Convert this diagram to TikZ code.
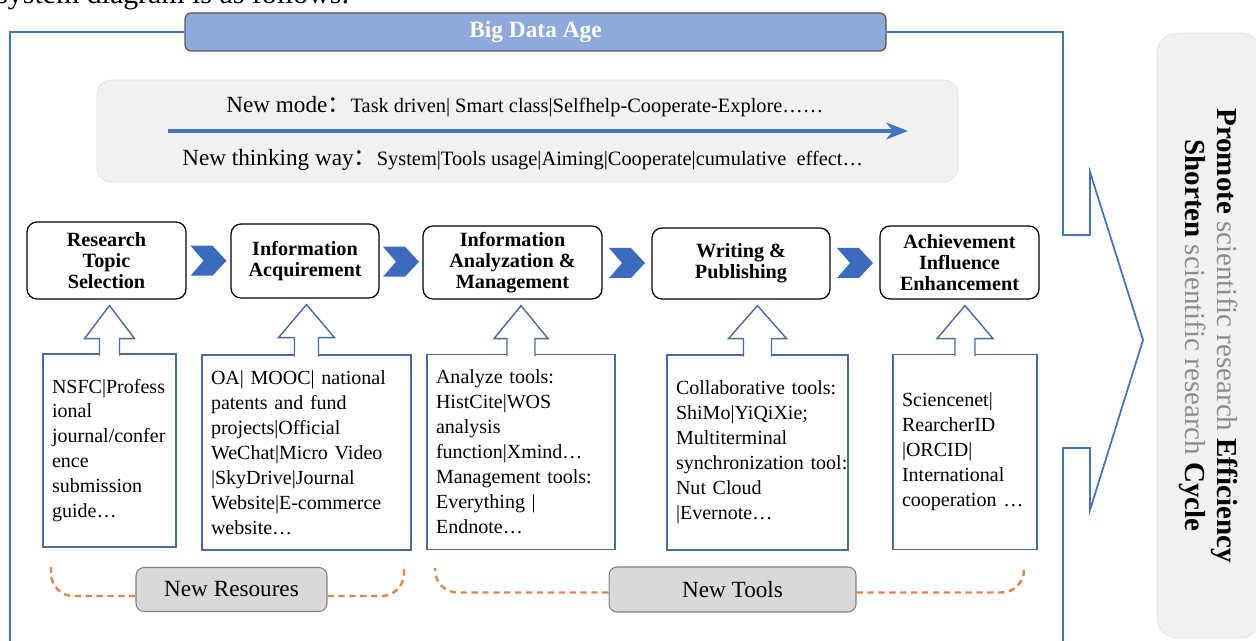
\documentclass[tikz,border=0pt]{standalone}
\usepackage{fontspec}
\setmainfont{Liberation Serif}
\newfontfamily\cjk{Noto Sans CJK SC}
\usetikzlibrary{arrows.meta,positioning,calc}
\definecolor{frameblue}{RGB}{68,114,196}
\definecolor{chevblue}{RGB}{59,106,190}
\definecolor{slateblue}{RGB}{74,106,165}
\definecolor{titlefill}{RGB}{142,169,219}
\definecolor{panelgray}{RGB}{241,241,241}
\definecolor{panelline}{RGB}{226,226,226}
\definecolor{tagfill}{RGB}{217,217,217}
\definecolor{tagline}{RGB}{128,128,128}
\definecolor{dashorange}{RGB}{224,134,76}
\definecolor{softgray}{RGB}{140,140,140}

\begin{document}
\begin{tikzpicture}[x=0.02cm,y=-0.02cm,
 stage/.style={draw=black,fill=white,rounded corners=0.2cm,align=center,line width=0.7pt,minimum height=1.46cm,font=\fontsize{11.5}{12}\selectfont\bfseries},
 textbox/.style={draw=slateblue,fill=white,line width=0.8pt,outer sep=0pt,inner xsep=0.18cm,align=left,minimum height=3.9cm,font=\fontsize{11.4}{14.2}\selectfont},
 hollow/.style={draw=slateblue,fill=white,line width=0.8pt,line join=miter},
 chev/.style={fill=chevblue},
 tag/.style={draw=tagline,fill=tagfill,rounded corners=0.16cm,line width=0.6pt,font=\fontsize{13.2}{15}\selectfont},
 dashy/.style={draw=dashorange,line width=1.4pt,dash pattern=on 3.6pt off 2.6pt,rounded corners=0.45cm}]
\useasboundingbox (0,0) rectangle (1256,641);
\node[anchor=base west,inner sep=0pt,font=\fontsize{17}{20}\selectfont] (caption) at (-4,4) {system diagram is as follows:};
% frame and title
\node[draw=black!65,fill=titlefill,rounded corners=0.12cm,line width=0.7pt,minimum width=14.02cm,minimum height=0.76cm,text=white,font=\fontsize{13.3}{15}\selectfont\bfseries] (title) at (535.5,32) {Big Data Age};
\draw[frameblue,line width=1pt] (title.west) -- (10,32) -- (10,660);
\draw[frameblue,line width=1pt,line join=miter] (title.east) -- (1063,32) -- (1063,235) -- (1090,235) -- (1090,172) -- (1143,340) -- (1090,510) -- (1090,448) -- (1063,448) -- (1063,660);
% mode panel
\node[fill=panelgray,draw=panelline,rounded corners=0.28cm,minimum width=17.22cm,minimum height=2.04cm] (mode) at (527.5,131) {};
\node[anchor=west,inner sep=0pt] (newmode) at (226,107) {\fontsize{13.2}{15}\selectfont New mode{\cjk ：}\fontsize{11.6}{14}\selectfont Task driven| Smart class|Selfhelp-Cooperate-Explore……};
\node[anchor=west,inner sep=0pt] (newway) at (182,160) {\fontsize{13.2}{15}\selectfont New thinking way{\cjk ：}\fontsize{11.6}{14}\selectfont System|Tools usage|Aiming|Cooperate|cumulative~ effect…};
\coordinate (modeL) at (168,131);
\coordinate (modeR) at (908,131);
\draw[frameblue,line width=1.8pt,-{Stealth[length=4.4mm,width=3.4mm]}] (modeL) -- (modeR);
% stages
\node[stage,minimum width=3.18cm,minimum height=1.54cm] (sel) at (106.5,260.5) {Research\\Topic\\Selection};
\node[stage,minimum width=2.96cm,minimum height=1.48cm] (acq) at (305,261) {Information\\Acquirement};
\node[stage,minimum width=3.58cm] (ana) at (512.5,262.5) {Information\\Analyzation \&\\Management};
\node[stage,minimum width=3.56cm,minimum height=1.42cm] (wri) at (741,263.5) {Writing \&\\Publishing};
\node[stage,minimum width=3.18cm] (ach) at (959.5,262.5) {Achievement\\Influence\\Enhancement};
\foreach \a/\b in {sel/acq,acq/ana,ana/wri,wri/ach}
 \fill[chev] ($(\a.east)!0.5!(\b.west)$) ++(-18,-15) -- ++(22,0) -- ++(14,15) -- ++(-14,15) -- ++(-22,0) -- ++(13,-15) -- cycle;
% resources and tools
\node[textbox,text width=2.30cm,minimum height=3.86cm] (nsfc) at (109.5,450.5) {NSFC|Profess\\ional\\journal/confer\\ence\\submission\\guide…};
\node[textbox,text width=3.82cm] (oa) at (306.5,452.5) {OA| MOOC| national\\patents and fund\\projects|Official\\WeChat|Micro Video\\|SkyDrive|Journal\\Website|E-commerce\\website…};
\node[textbox,text width=3.40cm] (histcite) at (521,452) {Analyze tools:\\HistCite|WOS\\analysis\\function|Xmind…\\Management tools:\\Everything |\\Endnote…};
\node[textbox,text width=3.26cm] (shimo) at (757.5,452.5) {Collaborative tools:\\ShiMo|YiQiXie;\\Multiterminal\\\mbox{synchronization tool:}\\Nut Cloud\\|Evernote…};
\node[textbox,text width=2.52cm] (orcid) at (965,452) {Sciencenet|\\RearcherID\\|ORCID|\\International\\cooperation …};
\foreach \src/\dst/\sw/\hw in {nsfc/sel/10/25,oa/acq/12/28,histcite/ana/14/27,shimo/wri/14/29,orcid/ach/10/28}{
 \coordinate (tip) at ($(\src.north |- \dst.south)+(0,6)$);
 \filldraw[hollow] ($(\src.north)+(-\sw,1.5)$) -- ($(tip)+(-\sw,33)$) -- ($(tip)+(-\hw,33)$) -- (tip) -- ($(tip)+(\hw,33)$) -- ($(tip)+(\sw,33)$) -- ($(\src.north)+(\sw,1.5)$);
}
% bottom tags
\node[tag,minimum width=3.82cm,minimum height=0.88cm] (res) at (231.5,589.5) {New Resoures};
\node[tag,minimum width=4.94cm,minimum height=0.9cm] (tools) at (732.5,589.5) {New Tools};
\coordinate (resL) at (51,567);
\coordinate (resR) at (404,567);
\coordinate (toolsL) at (435,568);
\coordinate (toolsR) at (1024,568);
\draw[dashy] ($(res.west)+(0,6.5)$) -| (resL);
\draw[dashy] ($(res.east)+(0,6.5)$) -| (resR);
\draw[dashy] ($(tools.west)+(0,3)$) -| (toolsL);
\draw[dashy] ($(tools.east)+(0,3)$) -| (toolsR);
% goal panel
\node[fill=panelgray,draw=panelline,rounded corners=0.4cm,rotate=-90,minimum width=12.1cm,minimum height=2.08cm,align=center,font=\fontsize{16.5}{18.2}\selectfont] (goal) at (1209,335.5) {\textbf{Promote} \textcolor{softgray}{scientific research} \textbf{Efficiency}\\\textbf{Shorten} \textcolor{softgray}{scientific research} \textbf{Cycle}};
\end{tikzpicture}
\end{document}
